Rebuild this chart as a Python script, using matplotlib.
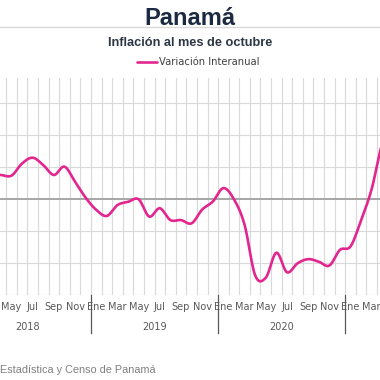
import numpy as np
import matplotlib
matplotlib.use('Agg')
from matplotlib import pyplot as plt
from matplotlib.lines import Line2D

# month index 0 = Ene 2018
months = list(range(2, 41))
inflacion = [0.78, 0.76, 0.74, 1.12, 1.30, 1.07, 0.76, 1.02, 0.55, 0.05,
             -0.33, -0.52, -0.18, -0.08, 0.00, -0.54, -0.28, -0.65, -0.65, -0.75,
             -0.32, -0.07, 0.35, 0.00, -0.80, -2.38, -2.45, -1.67, -2.28, -2.00,
             -1.87, -1.95, -2.07, -1.58, -1.47, -0.65, 0.33, 1.75, 2.30]
mes_labels = ['Ene', 'Feb', 'Mar', 'Abr', 'May', 'Jun', 'Jul', 'Ago', 'Sep', 'Oct', 'Nov', 'Dic']
years = ['2018', '2019', '2020']

pink = '#e3268f'


def smooth(x, y, n=20):
    # excel-like smoothed line (catmull-rom through the points)
    x = np.asarray(x, float)
    y = np.asarray(y, float)
    px = np.r_[x[0], x, x[-1]]
    py = np.r_[y[0], y, y[-1]]
    xs, ys = [], []
    t = np.linspace(0, 1, n, endpoint=False)
    for k in range(1, len(px) - 2):
        p0, p1, p2, p3 = py[k - 1], py[k], py[k + 1], py[k + 2]
        q0, q1, q2, q3 = px[k - 1], px[k], px[k + 1], px[k + 2]
        c1y, c2y = p1 + (p2 - p0) / 6, p2 - (p3 - p1) / 6
        c1x, c2x = q1 + (q2 - q0) / 6, q2 - (q3 - q1) / 6
        b = [(1 - t) ** 3, 3 * (1 - t) ** 2 * t, 3 * (1 - t) * t ** 2, t ** 3]
        xs.append(b[0] * q1 + b[1] * c1x + b[2] * c2x + b[3] * q2)
        ys.append(b[0] * p1 + b[1] * c1y + b[2] * c2y + b[3] * p2)
    xs.append([x[-1]])
    ys.append([y[-1]])
    return np.concatenate(xs), np.concatenate(ys)


fig = plt.figure(figsize=(3.8, 3.8), dpi=100)
W = 380.0
left_px, month_px = -36.2, 10.596
n_months = 46
ax = fig.add_axes([left_px / W, 1 - 295.3 / W, n_months * month_px / W, (295.3 - 77.7) / W])
ax.set_xlim(-0.5, n_months - 0.5)
ax.set_ylim(-3, 3.8)

for s in ax.spines.values():
    s.set_visible(False)

# grid
for b in np.arange(-0.5, n_months, 1):
    ax.axvline(b, color='#d9d9d9', lw=0.8, zorder=1)
for v in [-3, -2, -1, 1, 2, 3]:
    ax.axhline(v, color='#d9d9d9', lw=0.8, zorder=1)
ax.axhline(0, color='#a6a6a6', lw=1.4, zorder=2)

sx, sy = smooth(months, inflacion)
ax.plot(sx, sy, color=pink, lw=1.9, zorder=3, label='Variación Interanual',
        solid_capstyle='round')

# only the labels that fall inside the picture
ticks = [i for i in range(4, 39) if i % 2 == 0]
ax.set_xticks(ticks)
ax.set_xticklabels([mes_labels[i % 12] for i in ticks], fontsize=7, color='#595959')
ax.tick_params(axis='x', length=0, pad=5)
ax.set_yticks([])

trans = ax.get_xaxis_transform()
ax_h = 295.3 - 77.7
for k, yr in enumerate(years):
    ax.text(12 * k + 5.5, -(327 - 295.3) / ax_h, yr, transform=trans, ha='center', va='center',
            fontsize=7, color='#595959')
for k in range(4):
    ax.plot([12 * k - 0.5] * 2, [0, -(333 - 295.3) / ax_h], transform=trans, color='#595959',
            lw=0.9, clip_on=False)

# titles
fig.text(0.5, 1 - 25 / W, 'Panamá', ha='center', va='baseline', fontsize=17,
         fontweight='bold', family='Liberation Sans', color='#1b2a41')
fig.add_artist(Line2D([0, 1], [1 - 27.3 / W] * 2, color='#d9d9d9', lw=1))
fig.text(0.5, 1 - 46 / W, 'Inflación al mes de octubre', ha='center', va='baseline',
         fontsize=9.2, fontweight='bold', family='Liberation Sans', color='#2d3644')

ax.legend(loc='center', bbox_to_anchor=(198 / W, 1 - 62.3 / W), bbox_transform=fig.transFigure,
          frameon=False, fontsize=7.2, handlelength=2.0, handletextpad=0.2,
          labelcolor='#404040', borderaxespad=0, borderpad=0)

fig.text(0.0, 1 - 373 / W, 'Estadística y Censo de Panamá', ha='left', va='baseline',
         fontsize=7.8, family='Liberation Sans', color='#7f7f7f')

fig.savefig('out.png', dpi=100)
